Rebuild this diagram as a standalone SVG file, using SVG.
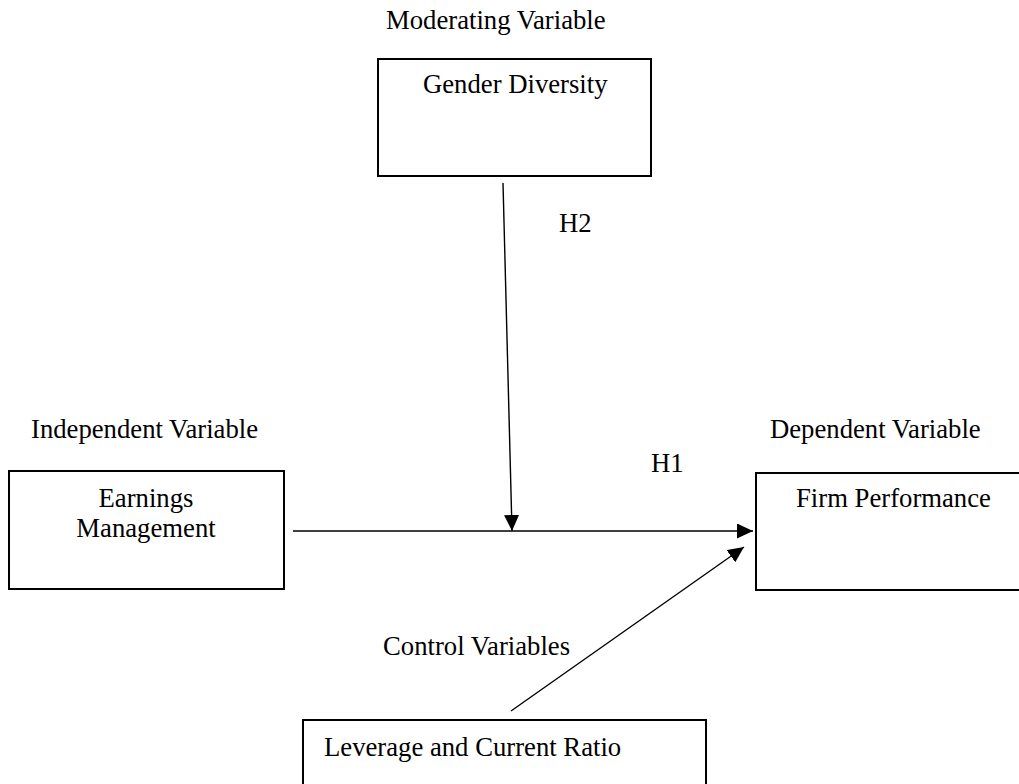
<svg xmlns="http://www.w3.org/2000/svg" width="1019" height="784" viewBox="0 0 1019 784">
<style>
text{font-family:"Liberation Serif","Times New Roman",serif;font-size:26.7px;fill:#000}
.box{fill:#fff;stroke:#000;stroke-width:2}
.edge{stroke:#000;stroke-width:1.4;fill:none}
</style>
<defs>
<marker id="arr" viewBox="0 0 16 15" refX="16" refY="7.5" markerWidth="16" markerHeight="15" markerUnits="userSpaceOnUse" orient="auto">
<path d="M0,0 L16,7.5 L0,15 Z" fill="#000"/>
</marker>
</defs>
<rect width="1019" height="784" fill="#fff"/>
<text x="386" y="29">Moderating Variable</text>
<text x="31" y="438">Independent Variable</text>
<text x="770" y="438">Dependent Variable</text>
<text x="383" y="655">Control Variables</text>
<text x="559" y="232">H2</text>
<text x="651" y="472">H1</text>
<g id="gender">
<rect class="box" x="378" y="59" width="273" height="117"/>
<text x="423" y="93">Gender Diversity</text>
</g>
<g id="earnings">
<rect class="box" x="9" y="471" width="275" height="118"/>
<text x="146" y="507" text-anchor="middle">Earnings</text>
<text x="146" y="537" text-anchor="middle">Management</text>
</g>
<g id="firm">
<rect class="box" x="756" y="473" width="280" height="117"/>
<text x="796" y="507">Firm Performance</text>
</g>
<g id="control">
<rect class="box" x="303" y="720" width="403" height="80"/>
<text x="324" y="756">Leverage and Current Ratio</text>
</g>
<g id="connectors">
<line class="edge" x1="293" y1="531" x2="753" y2="531" marker-end="url(#arr)"/>
<line class="edge" x1="503" y1="183" x2="512" y2="531" marker-end="url(#arr)"/>
<line class="edge" x1="511" y1="711" x2="744" y2="547" marker-end="url(#arr)"/>
</g>
</svg>
